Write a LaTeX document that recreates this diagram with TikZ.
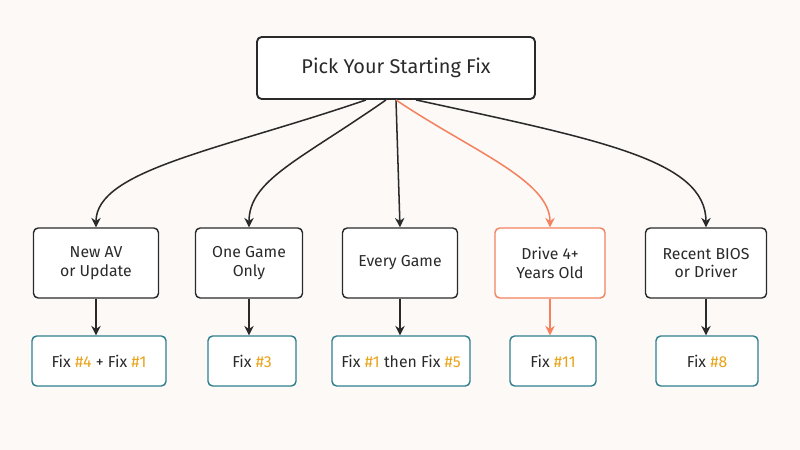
\documentclass[tikz,border=0pt]{standalone}
\usepackage{fontspec}
\setmainfont{Fira Sans}
\usetikzlibrary{arrows.meta,positioning}
\definecolor{bgcol}{HTML}{FCF9F7}
\definecolor{ink}{HTML}{2A2A2A}
\definecolor{hot}{HTML}{F4825F}
\definecolor{teal}{HTML}{2F7F8E}
\definecolor{gold}{HTML}{E9A318}
\tikzset{
  case/.style={draw=ink, line width=1.2pt, rounded corners=4pt, fill=white, align=center, font=\fontsize{13.5}{16}\selectfont, text=ink},
  fix/.style={draw=teal, line width=1.2pt, rounded corners=4pt, fill=white, align=center, font=\fontsize{13.5}{16}\selectfont, text=ink},
  link/.style={-{Stealth[length=8pt,width=8pt]}, line width=1.3pt, ink},
}
\newcommand{\num}[1]{\textcolor{gold}{#1}}
\begin{document}
\begin{tikzpicture}[x=0.03cm,y=-0.03cm]
  \fill[bgcol] (0,0) rectangle (800,450);
  % Root
  \node[case, line width=1.6pt, minimum width=278*0.03cm, minimum height=62*0.03cm, font=\fontsize{17}{20}\selectfont] (root) at (396,68) {Pick Your Starting Fix};
  % Cases
  \node[case, minimum width=125*0.03cm, minimum height=70*0.03cm] (av) at (96,263) {New AV\\or Update};
  \node[case, minimum width=107*0.03cm, minimum height=70*0.03cm] (one) at (249,263) {One Game\\Only};
  \node[case, minimum width=115*0.03cm, minimum height=70*0.03cm] (every) at (400,263) {Every Game};
  \node[case, draw=hot, minimum width=110*0.03cm, minimum height=70*0.03cm] (drive) at (550,263) {Drive 4+\\Years Old};
  \node[case, minimum width=121*0.03cm, minimum height=70*0.03cm] (bios) at (706,263) {Recent BIOS\\or Driver};
  % Fixes
  \node[fix, minimum width=134*0.03cm, minimum height=50*0.03cm] (f1) at (99,361) {Fix \num{\#4} + Fix \num{\#1}};
  \node[fix, minimum width=88*0.03cm, minimum height=50*0.03cm] (f2) at (252,361) {Fix \num{\#3}};
  \node[fix, minimum width=138*0.03cm, minimum height=50*0.03cm] (f3) at (401,361) {Fix \num{\#1} then Fix \num{\#5}};
  \node[fix, minimum width=86*0.03cm, minimum height=50*0.03cm] (f4) at (553,361) {Fix \num{\#11}};
  \node[fix, minimum width=102*0.03cm, minimum height=50*0.03cm] (f5) at (707,361) {Fix \num{\#8}};
  % Links from root
  \draw[link] (root.south) ++(-30,0) .. controls (220,150) and (96,170) .. (av.north);
  \draw[link] (root.south) ++(-10,0) .. controls (300,160) and (249,180) .. (one.north);
  \draw[link] (root.south) -- (every.north);
  \draw[link, hot] (root.south) ++(0,0) .. controls (470,150) and (550,180) .. (drive.north);
  \draw[link] (root.south) ++(20,0) .. controls (600,140) and (706,160) .. (bios.north);
  % Links to fixes
  \draw[link] (av) -- (av|-f1.north);
  \draw[link] (one) -- (one|-f2.north);
  \draw[link] (every) -- (every|-f3.north);
  \draw[link, hot] (drive) -- (drive|-f4.north);
  \draw[link] (bios) -- (bios|-f5.north);
\end{tikzpicture}
\end{document}
